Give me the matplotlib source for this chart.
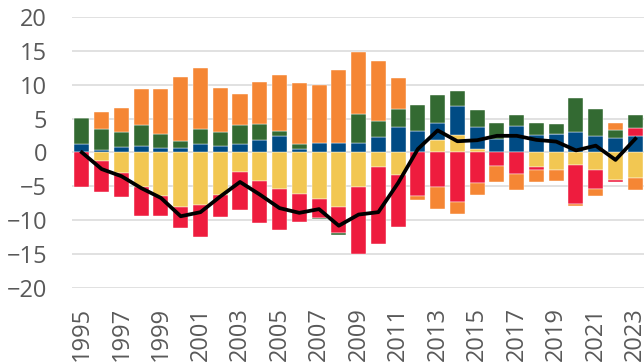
import matplotlib.pyplot as plt
import numpy as np

years = list(range(1995, 2024))

# contributions per component (signed), stacked in this order
yellow = [0, -1.3, -3.0, -5.05, -6.4, -8.0, -7.7, -6.2, -2.95, -4.25,
          -5.35, -6.15, -6.9, -8.1, -5.15, -2.15, -3.3, 0, 1.9, 2.5,
          0.5, 0, 0, -2.15, -2.55, -1.8, -2.55, -4.1, -3.7]
blue = [1.3, 0.3, 0.8, 1.0, 0.7, 0.6, 1.3, 0.9, 1.3, 1.8,
        2.35, 0.5, 1.4, 1.4, 1.4, 2.3, 3.8, 3.1, 2.5, 4.4,
        3.2, 2.0, 3.9, 2.5, 2.75, 2.95, 2.35, 2.1, 2.35]
red = [-5.15, -4.6, -3.6, -4.35, -3.0, -3.15, -4.7, -3.3, -5.6, -6.15,
       -6.1, -4.1, -2.8, -3.75, -9.75, -11.35, -7.7, -6.4, -5.15, -7.3,
       -4.45, -2.0, -3.15, -0.4, 0, -5.8, -2.85, -0.2, 1.25]
green = [3.75, 3.1, 2.2, 3.0, 2.0, 1.1, 2.2, 2.1, 2.8, 2.35,
         0.85, 0.75, -0.1, -0.25, 4.3, 2.4, 2.6, 3.85, 4.0, 2.1,
         2.5, 2.3, 1.6, 1.85, 1.45, 5.0, 4.05, 1.25, 1.95]
orange = [0, 2.5, 3.6, 5.4, 6.7, 9.4, 8.9, 6.5, 4.5, 6.3,
          8.2, 9.0, 8.5, 10.7, 9.15, 8.8, 4.5, -0.55, -3.15, -1.7,
          -1.85, -2.3, -2.35, -1.85, -1.65, -0.35, -1.0, 0.95, -1.8]
total = [0.0, -2.45, -3.5, -5.25, -6.7, -9.4, -8.8, -6.5, -4.35, -6.2,
         -8.2, -8.9, -8.35, -10.8, -9.15, -8.8, -4.5, 0.5, 3.25, 1.65,
         1.8, 2.45, 2.45, 1.85, 1.6, 0.3, 1.0, -1.1, 2.0]

series = [(yellow, '#F2C752'), (blue, '#004B84'), (red, '#EE1C3E'),
          (green, '#336A32'), (orange, '#F58634')]

fig = plt.figure(figsize=(6.44, 3.62), dpi=100)
ax = fig.add_axes([0.1118, 0.2039, 0.89, 0.75])

x = np.arange(len(years))
pos = np.zeros(len(years))
neg = np.zeros(len(years))
for vals, col in series:
    v = np.array(vals, dtype=float)
    bottom = np.where(v >= 0, pos, neg)
    ax.bar(x, v, 0.76, bottom=bottom, color=col, edgecolor='white',
           linewidth=0.3, zorder=2)
    pos += np.where(v >= 0, v, 0)
    neg += np.where(v < 0, v, 0)

ax.plot(x, total, color='black', linewidth=2.7, zorder=3)

ax.set_xlim(-0.5, 28.5)
ax.set_ylim(-20, 20)
ax.set_yticks(range(-20, 21, 5))
ax.yaxis.grid(True, color='#d9d9d9', linewidth=1.1, zorder=0)
ax.set_axisbelow(True)
for s in ax.spines.values():
    s.set_visible(False)

ax.set_xticks(x[::2])
ax.set_xticklabels([str(y) for y in years[::2]], rotation=90, va='top')
ax.tick_params(length=0, labelsize=17, labelcolor='#595959')
ax.tick_params(axis='x', pad=13.5)
ax.tick_params(axis='y', pad=18)
for lab in ax.get_xticklabels() + ax.get_yticklabels():
    lab.set_family('Open Sans')

fig.savefig('out.png', dpi=100)
